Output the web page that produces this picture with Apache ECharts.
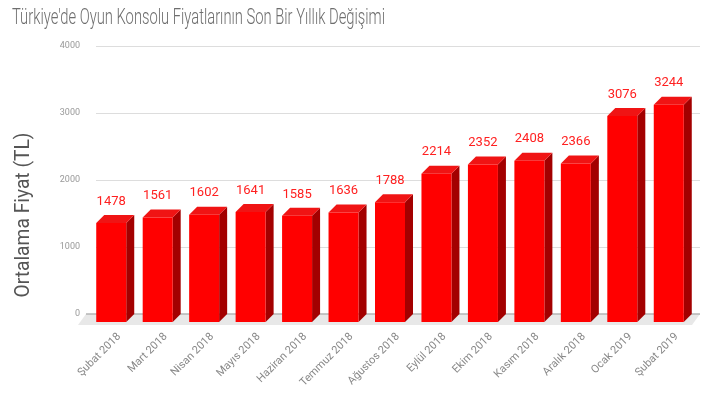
<!DOCTYPE html>
<html><head><meta charset="utf-8">
<script src="https://cdn.jsdelivr.net/npm/echarts@6/dist/echarts.min.js"></script>
<style>html,body{margin:0;padding:0;background:#fff}#c{width:702px;height:393px}</style>
</head><body><div id="c"></div>
<script>
var titleText = "Türkiye'de Oyun Konsolu Fiyatlarının Son Bir Yıllık Değişimi";
var yAxisTitle = "Ortalama Fiyat (TL)";
var categories = ["Şubat 2018","Mart 2018","Nisan 2018","Mayıs 2018","Haziran 2018","Temmuz 2018","Ağustos 2018","Eylül 2018","Ekim 2018","Kasım 2018","Aralık 2018","Ocak 2019","Şubat 2019"];
var prices = [1478,1561,1602,1641,1585,1636,1788,2214,2352,2408,2366,3076,3244];
var yTicks = [0,1000,2000,3000,4000];

function measure(text, font){
  var c = document.createElement('canvas').getContext('2d');
  c.font = font; return c.measureText(text).width;
}
var titleFont = '300 22px Roboto';
var titleScale = 373 / measure(titleText, titleFont);
var yFontSize = 20;
var yFont = yFontSize + 'px Roboto';
var yScale = 165 / measure(yAxisTitle, yFont);

var D = 8, HALF = 15;
var chart = echarts.init(document.getElementById('c'));
chart.setOption({
  animation:false,
  graphic:[
    {type:'text', x:12, y:18, scaleX:titleScale, style:{text:titleText, fill:'#6e6e6e', font:titleFont, verticalAlign:'middle'}},
    {type:'text', x:24, y:215, rotation:Math.PI/2, scaleX:yScale, style:{text:yAxisTitle, fill:'#555', font:yFont, align:'center', verticalAlign:'middle'}}
  ],
  grid:{left:96, right:2, top:46, bottom:79},
  xAxis:{type:'category', data:categories,
    axisLine:{show:false}, axisTick:{show:false},
    axisLabel:{interval:0, rotate:45, margin:21, color:'#888', fontSize:11, fontFamily:'Roboto'}},
  yAxis:{type:'value', min:yTicks[0], max:yTicks[yTicks.length-1], interval:1000,
    axisLine:{show:false}, axisTick:{show:false},
    axisLabel:{color:'#999', fontSize:9, fontFamily:'Roboto', margin:16, formatter:function(v){return String(v);}},
    splitLine:{lineStyle:{color:'#ddd', width:1}}},
  series:[
    {type:'custom', data:[[0,0]], silent:true, z:1,
     renderItem:function(params, api){
       var cs = params.coordSys;
       var y0 = api.coord([0,0])[1];
       var x1 = cs.x - 10, x2 = cs.x + cs.width;
       return {type:'group', children:[
         {type:'polygon', shape:{points:[[x1,y0],[x2,y0],[x2-D,y0+D+3],[x1-D,y0+D+3]]}, style:{fill:'#e8e8e8'}},
         {type:'line', shape:{x1:x1, y1:y0, x2:x2, y2:y0}, style:{stroke:'#b5b5b5', lineWidth:1.5}}
       ]};
     }},
    {type:'custom', data:prices.map(function(v,i){return [i,v];}), z:3,
     renderItem:function(params, api){
       var i = api.value(0), v = api.value(1);
       var top = api.coord([i, v]);
       var base = api.coord([i, 0]);
       var cx = top[0] - D, yt = top[1] + D, yb = base[1] + D;
       var l = cx - HALF, r = cx + HALF;
       return {type:'group', children:[
         {type:'polygon', shape:{points:[[r,yt],[r+D,yt-D],[r+D,yb-D],[r,yb]]}, style:{fill:'#a30000'}},
         {type:'polygon', shape:{points:[[l,yt],[l+D,yt-D],[r+D,yt-D],[r,yt]]}, style:{fill:'#f01414'}},
         {type:'rect', shape:{x:l, y:yt, width:2*HALF, height:yb-yt}, style:{fill:'#ff0000'}},
         {type:'text', x:cx, y:yt-D-7, style:{text:String(v), fill:'#ff2020', font:'13px Roboto', align:'center', verticalAlign:'bottom'}}
       ]};
     }}
  ]
});
</script></body></html>
